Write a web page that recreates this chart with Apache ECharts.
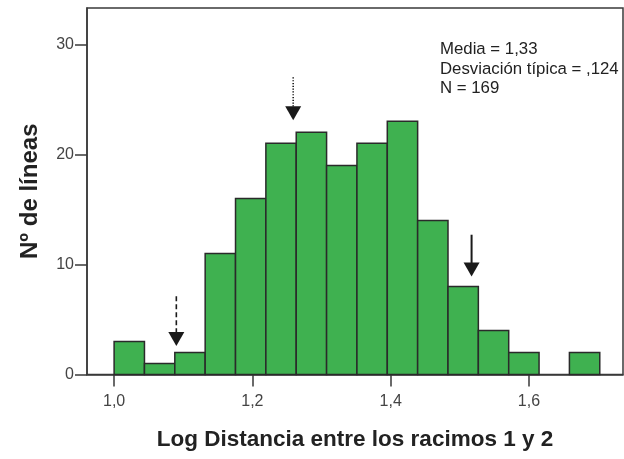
<!DOCTYPE html>
<html>
<head>
<meta charset="utf-8">
<script src="https://cdn.jsdelivr.net/npm/echarts@6/dist/echarts.min.js"></script>
<style>html,body{margin:0;padding:0;background:#fff}#c{width:624px;height:459px}</style>
</head>
<body>
<div id="c"></div>
<script>
// Histogram bin edges and counts
const binEdges = [1.0000, 1.0439, 1.0878, 1.1317, 1.1756, 1.2195, 1.2634, 1.3073, 1.3512, 1.3951, 1.4390, 1.4829, 1.5268, 1.5707, 1.6146, 1.6585, 1.7024];
const counts = [3, 1, 2, 11, 16, 21, 22, 19, 21, 23, 14, 8, 4, 2, 0, 2];
// Tick values and labels
const xTicks = [1.0, 1.2, 1.4, 1.6];
const xTickLabels = ['1,0', '1,2', '1,4', '1,6'];
const yTicks = [0, 10, 20, 30];
// Arrow annotations: x position, tail value, tip value, line style
const arrowX = [1.090, 1.259, 1.517];
const arrowTail = [7.1, 27.0, 12.7];
const arrowTip = [2.6, 23.1, 8.9];
const arrowStyle = ['dashed', 'dotted', 'solid'];
// Stats text
const statsLines = ['Media = 1,33', 'Desviación típica = ,124', 'N = 169'];

const barData = counts.map((c, i) => [binEdges[i], binEdges[i + 1], c]);
const arrowData = arrowX.map((x, i) => [x, arrowTail[i], arrowTip[i], i]);

const chart = echarts.init(document.getElementById('c'));
chart.setOption({
  backgroundColor: '#fff',
  animation: false,
  grid: { left: 87, right: 1, top: 8, bottom: 84.5, show: true, borderColor: '#3a3a3a', borderWidth: 1.5, backgroundColor: 'transparent' },
  xAxis: {
    type: 'value', min: 0.9608, max: 1.736,
    name: 'Log Distancia entre los racimos 1 y 2',
    nameLocation: 'middle', nameGap: 54,
    nameTextStyle: { fontFamily: 'Liberation Sans', fontWeight: 'bold', fontSize: 22.5, color: '#222' },
    axisLine: { show: true, lineStyle: { color: '#3a3a3a', width: 1.5 } },
    axisTick: { show: true, length: 12, lineStyle: { color: '#3a3a3a', width: 1.5 }, customValues: xTicks },
    axisLabel: { fontFamily: 'Liberation Sans', fontSize: 16, color: '#444', margin: 19, customValues: xTicks,
      formatter: v => { const i = xTicks.findIndex(t => Math.abs(t - v) < 1e-6); return i >= 0 ? xTickLabels[i] : ''; } },
    splitLine: { show: false }
  },
  yAxis: {
    type: 'value', min: 0, max: 33.3,
    name: 'Nº de líneas', nameLocation: 'middle', nameGap: 45,
    nameTextStyle: { fontFamily: 'Liberation Sans', fontWeight: 'bold', fontSize: 24, color: '#222' },
    axisLine: { show: true, lineStyle: { color: '#3a3a3a', width: 1.5 } },
    axisTick: { show: true, length: 12, lineStyle: { color: '#3a3a3a', width: 1.5 }, customValues: yTicks },
    axisLabel: { fontFamily: 'Liberation Sans', fontSize: 16, color: '#444', margin: 13, customValues: yTicks },
    splitLine: { show: false }
  },
  graphic: [{
    type: 'text', left: 440, top: 40,
    style: { text: statsLines.join('\n'), font: '16.8px "Liberation Sans"', fill: '#222', lineHeight: 19.5 }
  }],
  series: [{
    type: 'custom',
    data: barData,
    encode: { x: [0, 1], y: 2 },
    renderItem: (params, api) => {
      const p0 = api.coord([api.value(0), 0]);
      const p1 = api.coord([api.value(1), api.value(2)]);
      if (api.value(2) <= 0) return null;
      return {
        type: 'rect',
        shape: { x: p0[0], y: p1[1], width: p1[0] - p0[0], height: p0[1] - p1[1] },
        style: { fill: '#3fb150', stroke: '#2a2a2a', lineWidth: 1.5 }
      };
    }
  }, {
    type: 'custom',
    data: arrowData,
    encode: { x: 0, y: [1, 2] },
    z: 5,
    renderItem: (params, api) => {
      const a = api.coord([api.value(0), api.value(1)]);
      const b = api.coord([api.value(0), api.value(2)]);
      const st = arrowStyle[api.value(3)];
      const headH = 14, headW = 8;
      const dash = st === 'dashed' ? [5, 3] : (st === 'dotted' ? [1.2, 1.6] : null);
      return {
        type: 'group',
        children: [{
          type: 'line',
          shape: { x1: a[0], y1: a[1], x2: b[0], y2: b[1] - headH + 1 },
          style: { stroke: '#1a1a1a', lineWidth: st === 'solid' ? 2 : 1.6, lineDash: dash }
        }, {
          type: 'polygon',
          shape: { points: [[b[0] - headW, b[1] - headH], [b[0] + headW, b[1] - headH], [b[0], b[1]]] },
          style: { fill: '#1a1a1a' }
        }]
      };
    }
  }]
});
</script>
</body>
</html>
